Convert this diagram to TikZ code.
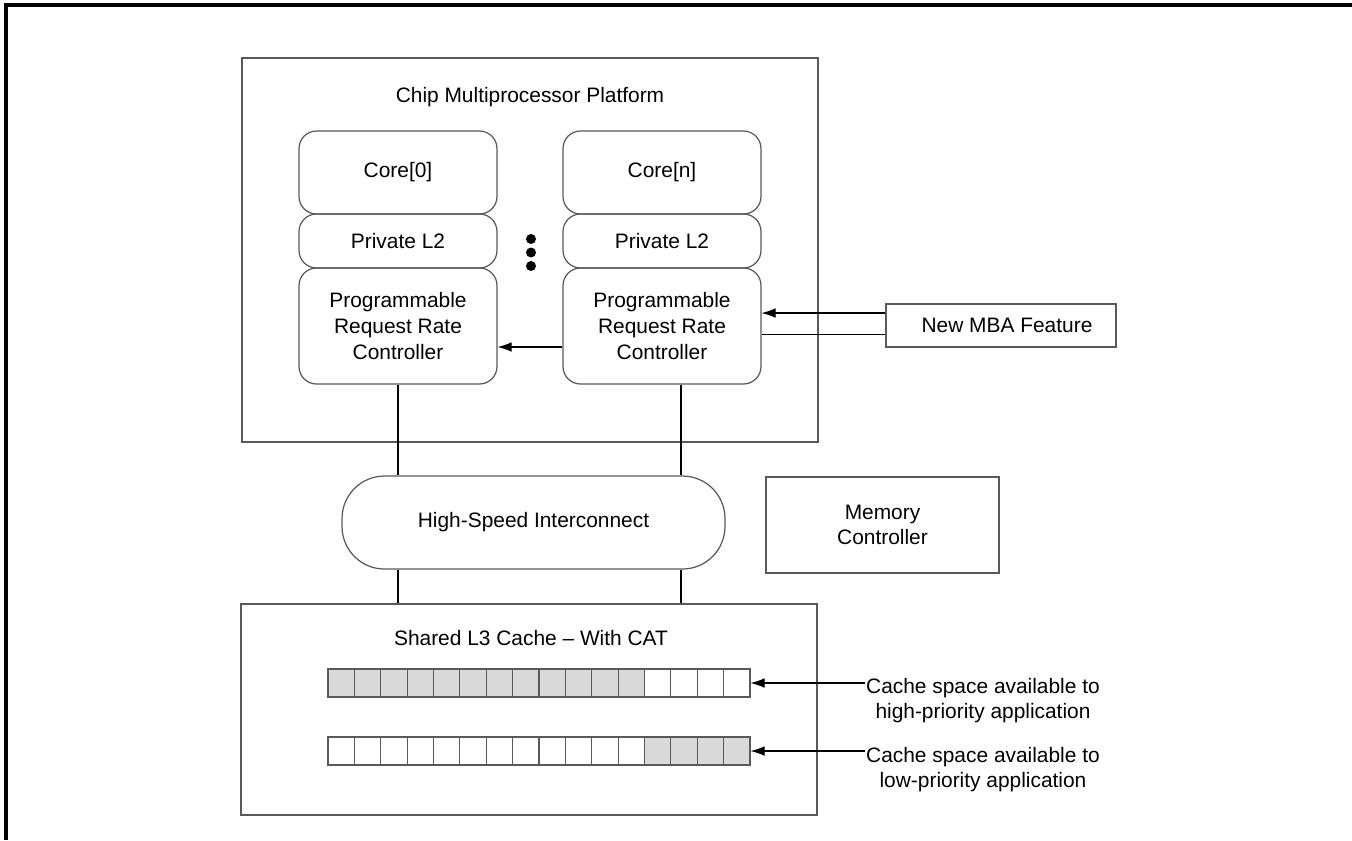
\documentclass[tikz,border=0pt]{standalone}
\usepackage{fontspec}
\setmainfont{Liberation Sans}
\usetikzlibrary{arrows.meta, positioning, calc}

\begin{document}
\begin{tikzpicture}[>={Latex[length=8pt,width=5.5pt]}, x=0.02cm, y=-0.02cm,
    font=\fontsize{11.9}{14.6}\selectfont,
    blk/.style={draw=black!65, line width=0.7pt, align=center, inner sep=0pt},
    rnd/.style={blk, rounded corners=0.35cm, minimum width=3.96cm},
    cell/.style={draw=black!65, line width=0.6pt, minimum width=0.5275cm, minimum height=0.56cm, inner sep=0pt},
    wire/.style={line width=0.6pt},
    dot/.style={circle, fill=black, inner sep=0pt, minimum size=0.2cm}]

\useasboundingbox (0,0) rectangle (1352,840);

% Outer frame
\draw[line width=1.9pt] (6,840) -- (6,5) -- (1352,5);

% Define nodes
\node[blk, minimum width=11.52cm, minimum height=7.68cm] (cmp) at (530,250) {};
\node (cmptitle) at (530,97) {Chip Multiprocessor Platform};

\node[rnd, minimum height=1.66cm] (core0) at (398,172.5) {Core[0]};
\node[rnd, minimum height=1.08cm] (l2a) at (398,241) {Private L2};
\node[rnd, minimum height=2.32cm] (rrc0) at (398,326) {Programmable\\Request Rate\\Controller};

\node[rnd, minimum height=1.66cm] (coren) at (662,172.5) {Core[n]};
\node[rnd, minimum height=1.08cm] (l2b) at (662,241) {Private L2};
\node[rnd, minimum height=2.32cm] (rrcn) at (662,326) {Programmable\\Request Rate\\Controller};

\node[dot] (dot1) at (531,239) {};
\node[dot] (dot2) at (531,252.5) {};
\node[dot] (dot3) at (531,266) {};

\node[blk, minimum width=4.6cm, minimum height=0.86cm] (mba) at (1001,325.5) {\hspace*{0.24cm}New MBA Feature};

\node[blk, rounded corners=0.85cm, minimum width=7.66cm, minimum height=1.86cm] (hsi) at (533.5,522.5) {High-Speed Interconnect};
\node[blk, minimum width=4.66cm, minimum height=1.92cm] (memctl) at (882.5,525) {Memory\\Controller};

\node[blk, minimum width=11.52cm, minimum height=4.22cm] (l3) at (529,709.5) {};
\node (l3title) at (531,638) {Shared L3 Cache -- With CAT};

% Cache ways
\foreach \i in {0,...,11} {
    \node[cell, fill=black!15] (hi\i) at (341.2+26.375*\i,683) {};
    \node[cell] (lo\i) at (341.2+26.375*\i,751) {};
}
\foreach \i in {12,...,15} {
    \node[cell] (hi\i) at (341.2+26.375*\i,683) {};
    \node[cell, fill=black!15] (lo\i) at (341.2+26.375*\i,751) {};
}

\node[align=center] (hilbl) at (983,700.5) {Cache space available to\\high-priority application};
\node[align=center] (lolbl) at (983,769.5) {Cache space available to\\low-priority application};

% Draw edges
\coordinate (mbaup) at ($(mba.west)+(0,-12.5)$);
\coordinate (mbadn) at ($(mba.west)+(0,9)$);
\draw[wire, ->] (mbaup) -- (mbaup -| rrcn.east);
\draw[wire] (mbadn) -- (mbadn -| rrcn.east);
\draw[wire, ->] ($(rrcn.west)+(0,21)$) -- ($(rrc0.east)+(0,21)$);

\coordinate (tapR) at ($(rrcn.south)+(19,0)$);
\draw[wire] (rrc0.south) -- (rrc0.south |- hsi.north);
\draw[wire] (tapR) -- (tapR |- hsi.north);
\draw[wire] (rrc0.south |- hsi.south) -- (rrc0.south |- l3.north);
\draw[wire] (tapR |- hsi.south) -- (tapR |- l3.north);

\coordinate (hitail) at (865,683);
\coordinate (lotail) at (865,751);
\draw[wire, ->] (hitail) -- (hi15.east);
\draw[wire, ->] (lotail) -- (lo15.east);

\end{tikzpicture}
\end{document}
